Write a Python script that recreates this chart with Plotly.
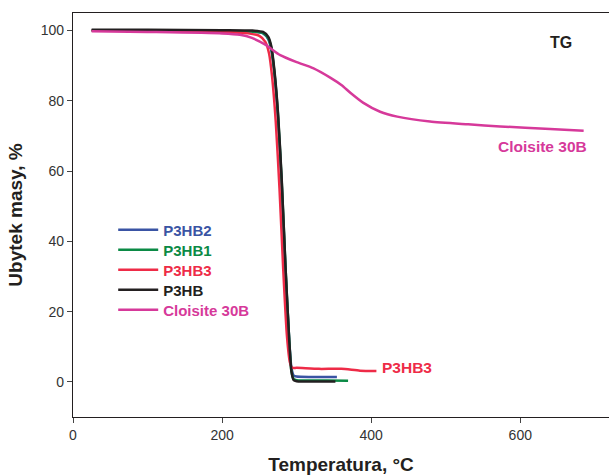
import plotly.graph_objects as go

# Temperatures (°C) and mass (%) for each sample
t_p3hb2 = [25, 100, 200, 240, 255, 262, 266, 270, 275, 280, 285, 290, 293, 296, 300, 320, 354]
m_p3hb2 = [100, 100, 99.9, 99.7, 99.2, 97.5, 94.5, 88, 75, 56, 32, 12, 4, 1.8, 1.5, 1.4, 1.4]

t_p3hb1 = [25, 100, 200, 240, 255, 262, 266, 270, 275, 280, 285, 290, 293, 296, 300, 340, 369]
m_p3hb1 = [100, 100, 99.9, 99.7, 99.3, 97.8, 95, 88.5, 76, 57, 33, 12, 3, 0.8, 0.5, 0.4, 0.3]

t_p3hb3 = [25, 100, 200, 235, 250, 258, 263, 267, 272, 277, 282, 287, 291, 294, 300, 330, 360, 385, 407]
m_p3hb3 = [100, 99.9, 99.6, 99.2, 98.5, 96.8, 93.5, 87, 74, 55, 32, 13, 5.5, 4.0, 4.0, 3.7, 3.7, 3.2, 3.1]

t_p3hb = [25, 100, 200, 240, 255, 262, 266, 270, 275, 280, 285, 290, 293, 296, 300, 330, 352]
m_p3hb = [100.2, 100.2, 100.1, 100, 99.6, 98.2, 95.5, 89, 76.5, 57.5, 33, 12, 3, 0.5, 0.2, 0.1, 0.1]

t_cloisite = [25, 100, 200, 224, 240, 258, 278, 300, 322, 345, 360, 372, 389, 412, 435, 479, 530, 573, 640, 685]
m_cloisite = [99.8, 99.6, 99.2, 98.8, 97.9, 96, 93, 91, 89.3, 86.6, 84.5, 82.3, 79.5, 76.9, 75.5, 74.1, 73.3, 72.7, 72, 71.5]

series = [
    ("P3HB2", t_p3hb2, m_p3hb2, "#3a54a4"),
    ("P3HB1", t_p3hb1, m_p3hb1, "#0b8a45"),
    ("P3HB3", t_p3hb3, m_p3hb3, "#ee2b47"),
    ("P3HB", t_p3hb, m_p3hb, "#231f20"),
    ("Cloisite 30B", t_cloisite, m_cloisite, "#d6399a"),
]

x_ticks = [0, 200, 400, 600]
y_ticks = [0, 20, 40, 60, 80, 100]

# one single-entry legend per series, stacked at a fixed spacing
legend_ids = ["legend", "legend2", "legend3", "legend4", "legend5"]
legend_y = [0.4629, 0.4134, 0.3639, 0.3144, 0.2649]

fig = go.Figure()
for (name, t, m, c), lid in zip(series, legend_ids):
    fig.add_trace(go.Scatter(
        x=t, y=m, mode="lines", line=dict(color=c, width=2.5, shape="spline", smoothing=0.6),
        name=f"<b><span style='color:{c}'>{name}</span></b>", legend=lid,
    ))

font_family = "Liberation Sans, Arial, sans-serif"

legend_layout = {}
for lid, ly in zip(legend_ids, legend_y):
    legend_layout[lid] = dict(x=0.075, y=ly, xanchor="left", yanchor="middle",
                              bgcolor="rgba(0,0,0,0)", font=dict(size=15),
                              itemwidth=40)

fig.update_layout(
    width=609, height=476,
    margin=dict(l=73, r=0, t=13, b=59),
    paper_bgcolor="white", plot_bgcolor="white",
    font=dict(family=font_family, size=14, color="#333333"),
    showlegend=True,
    xaxis=dict(range=[0, 719], tickvals=x_ticks, ticks="outside", ticklen=5,
               showline=True, linecolor="#231f20", linewidth=1.2, mirror=True,
               showgrid=False, zeroline=False,
               title=dict(text="<b>Temperatura, °C</b>", font=dict(size=19, color="#231f20"), standoff=15)),
    yaxis=dict(range=[-10, 105], tickvals=y_ticks, ticks="outside", ticklen=5,
               showline=True, linecolor="#231f20", linewidth=1.2,
               showgrid=False, zeroline=False,
               title=dict(text="<b>Ubytek masy, %</b>", font=dict(size=19, color="#231f20"), standoff=13)),
    annotations=[
        dict(x=654, y=96.6, xref="x", yref="y", text="<b>TG</b>", showarrow=False,
             font=dict(size=16, color="#231f20")),
        dict(x=630, y=67, xref="x", yref="y", text="<b>Cloisite 30B</b>", showarrow=False,
             font=dict(size=15.5, color="#d6399a")),
        dict(x=448, y=4.0, xref="x", yref="y", text="<b>P3HB3</b>", showarrow=False,
             font=dict(size=15.5, color="#ee2b47")),
    ],
    **legend_layout,
)

fig.write_html(
    "out.html",
    config={"displayModeBar": False},
    post_script="document.body.style.margin='0';document.body.style.overflow='hidden';",
)
